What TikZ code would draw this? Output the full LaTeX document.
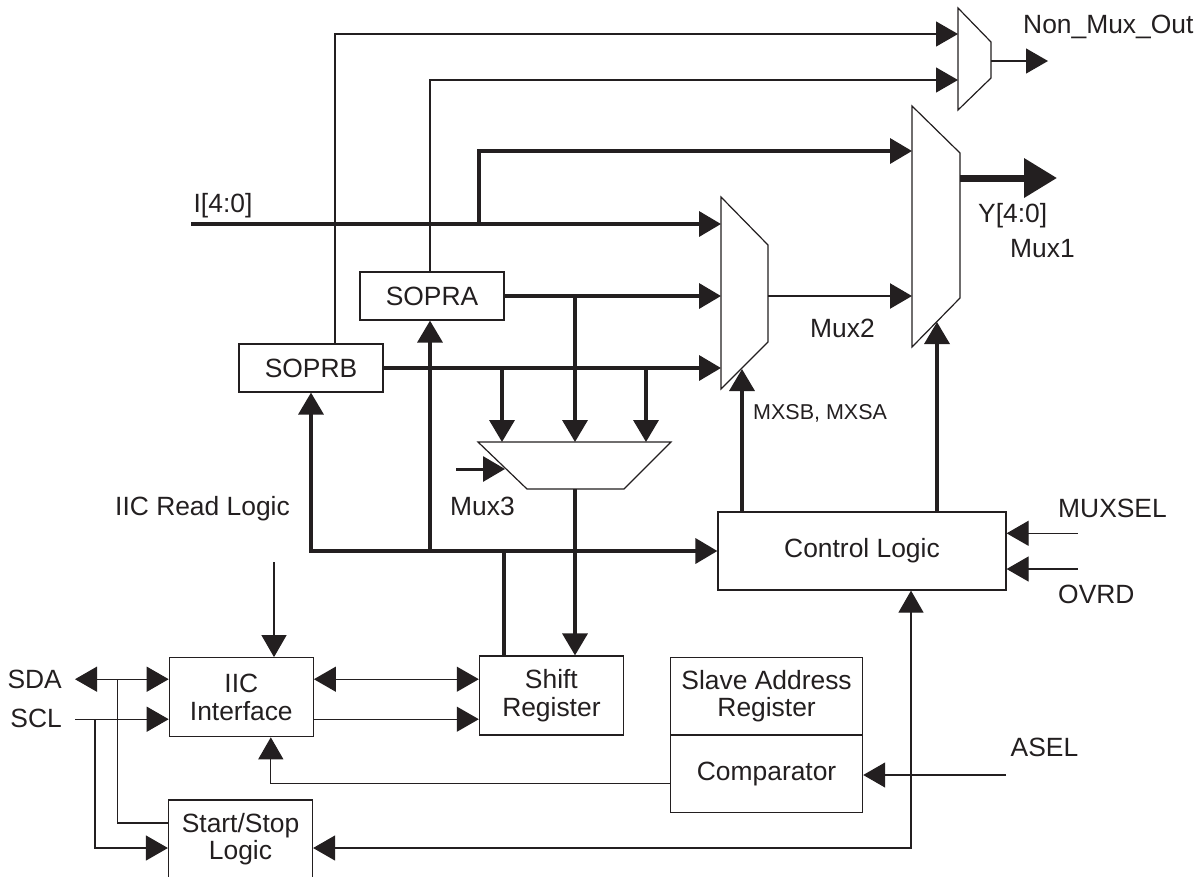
\documentclass[tikz,border=0pt]{standalone}
\usepackage{fontspec}
\setmainfont{Liberation Sans}
\usetikzlibrary{arrows.meta,calc}
\definecolor{ink}{HTML}{231F20}
\newcommand\lblfont{\fontsize{26.4}{27.6}\selectfont}
\newcommand\smallfont{\fontsize{21.5}{24}\selectfont}
\begin{document}
\begin{tikzpicture}[x=1pt,y=-1pt,
  >={Triangle[length=22pt,width=25pt]},
  bigarr/.style={-{Triangle[length=33pt,width=38pt]}},
  blk/.style={draw=ink,line width=1.2pt,fill=white,inner sep=0pt,align=center,text=ink,font=\lblfont},
  lbl/.style={inner sep=0pt,text=ink,font=\lblfont},
  muxshape/.style={draw=ink,line width=1.2pt,fill=white,line join=miter},
  thinw/.style={draw=ink,line width=1.2pt},
  thickw/.style={draw=ink,line width=3.6pt},
  midw/.style={draw=ink,line width=2.4pt},
  ythick/.style={draw=ink,line width=7pt}]
\useasboundingbox (0,0) rectangle (1201,876);

% ---- blocks ----
\node[blk,minimum width=144pt,minimum height=48pt] (sopra) at (432,296) {SOPRA};
\node[blk,minimum width=144pt,minimum height=48pt] (soprb) at (311,368) {SOPRB};
\node[blk,minimum width=144pt,minimum height=79pt] (iic) at (241.3,697.2) {IIC\\Interface};
\node[blk,minimum width=144pt,minimum height=78pt] (startstop) at (240.5,839) {Start/Stop\\Logic};
\node[blk,minimum width=144pt,minimum height=79pt] (shift) at (551.4,695.5) {Shift\\Register};
\node[blk,minimum width=192pt,minimum height=77.6pt] (slave) at (766.6,696.2) {Slave Address\\Register};
\node[blk,minimum width=192pt,minimum height=77.6pt] (comp) at (766.6,773.8) {Comparator};
\node[blk,minimum width=288pt,minimum height=78pt] (control) at (862,551) {Control Logic};

% ---- multiplexers ----
\draw[muxshape] (958,8) -- (991,42) -- (991,78) -- (958,110) -- cycle;
\draw[muxshape] (912,106) -- (960,153) -- (960,298) -- (912,347) -- cycle;
\draw[muxshape] (721,197) -- (768,245) -- (768,342) -- (721,389) -- cycle;
\draw[muxshape] (478,442) -- (671,442) -- (624,489) -- (527,489) -- cycle;

% mux ports
\coordinate (m0a) at (958,34);
\coordinate (m0b) at (958,80);
\coordinate (m0o) at (991,61);
\coordinate (m1a) at (912,151);
\coordinate (m1b) at (912,296);
\coordinate (m1o) at (960,178);
\coordinate (m1s) at (937,322);
\coordinate (m2a) at (721,224);
\coordinate (m2b) at (721,296);
\coordinate (m2c) at (721,368);
\coordinate (m2o) at (768,296);
\coordinate (m2s) at (742,369);
\coordinate (m3a) at (502,442);
\coordinate (m3b) at (575,442);
\coordinate (m3c) at (646,442);
\coordinate (m3o) at (575,489);
\coordinate (m3s) at (505,469);

% free ends / junctions
\coordinate (iin) at (191,224);
\coordinate (j1) at (479,224);
\coordinate (yout) at (1057,178);
\coordinate (nmo) at (1048,61);
\coordinate (m3sin) at (456,469);
\coordinate (irl) at (274,562);
\coordinate (sda) at (75,679.2);
\coordinate (sdab) at (117.7,679.2);
\coordinate (scl) at (75,719.2);
\coordinate (sclb) at (95,719.2);
\coordinate (asel) at (1006,775);
\coordinate (muxsel) at (1077.5,533.3);
\coordinate (ovrd) at (1077.5,569);

% ---- thick buses ----
\draw[thickw,->] (iin) -- (m2a);
\draw[thickw,->] (j1) |- (m1a);
\draw[thickw,->] (sopra.east) -- (m2b);
\draw[thickw,->] (soprb.east) -- (m2c);
\draw[thickw,->] (m3b |- sopra.east) -- (m3b);
\draw[thickw,->] (m3a |- soprb.east) -- (m3a);
\draw[thickw,->] (m3c |- soprb.east) -- (m3c);
\draw[midw,->] (m2o) -- (m1b);
\draw[ythick,bigarr] (m1o) -- (yout);
\draw[thickw,->] (control.north -| m2s) -- (m2s);
\draw[thickw,->] (control.north -| m1s) -- (m1s);
\draw[thickw,<->] (soprb.south) |- (control.west);
\draw[thickw,->] ([xshift=-2pt]sopra.south |- control.west) -- ([xshift=-2pt]sopra.south);
\draw[thickw] ([xshift=-47.5pt]shift.north |- control.west) -- ([xshift=-47.5pt]shift.north);
\draw[thickw,->] (m3o) -- (m3o |- shift.north);
\draw[line width=3pt,draw=ink,->] (m3sin) -- (m3s);

% ---- thin lines ----
\draw[thinw,->] ([xshift=24pt]soprb.north) |- (m0a);
\draw[thinw,->] ([xshift=-2pt]sopra.north) |- (m0b);
\draw[thinw,->] (m0o) -- (nmo);
\draw[thinw,->] (irl) -- (irl |- iic.north);
\draw[thinw,<->] (sda) -- (sda -| iic.west);
\draw[thinw,->] (scl) -- (scl -| iic.west);
\draw[thinw] (sdab) |- ([yshift=16pt]startstop.west);
\draw[thinw,->] (sclb) |- ([yshift=-9pt]startstop.west);
\draw[thinw,<->] ([yshift=18pt]iic.east) -- ([yshift=18pt]iic.east -| shift.west);
\draw[thinw,->] ([yshift=-22pt]iic.east) -- ([yshift=-22pt]iic.east -| shift.west);
\draw[thinw,->] ([yshift=-10pt]comp.west) -| ([xshift=29.5pt]iic.south);
\draw[thinw,->] (asel) -- (asel -| comp.east);
\draw[thinw,->] (muxsel) -- (muxsel -| control.east);
\draw[thinw,->] (ovrd) -- (ovrd -| control.east);
\draw[thinw,<->] ([yshift=-9pt]startstop.east) -| ([xshift=49pt]control.south);

% ---- labels ----
\node[lbl,anchor=base] (lI) at (223,212) {I[4:0]};
\node[lbl,anchor=base west] (lY) at (978,222) {Y[4:0]};
\node[lbl,anchor=base west] (lm1) at (1010,257) {Mux1};
\node[lbl,anchor=base west] (lm2) at (810,337) {Mux2};
\node[lbl,anchor=base west] (lm3) at (450,515) {Mux3};
\node[lbl,anchor=base west] (lnmo) at (1023,33) {Non\_Mux\_Out};
\node[lbl,anchor=base west] (lirl) at (115,515) {IIC Read Logic};
\node[lbl,anchor=base west,font=\smallfont] (lmx) at (753,419) {MXSB, MXSA};
\node[lbl,anchor=base west] (lmuxsel) at (1058,517) {MUXSEL};
\node[lbl,anchor=base west] (lovrd) at (1058,603) {OVRD};
\node[lbl,anchor=base west] (lasel) at (1010.5,756) {ASEL};
\node[lbl,anchor=base east] (lsda) at (62,688) {SDA};
\node[lbl,anchor=base east] (lscl) at (62,727) {SCL};
\end{tikzpicture}
\end{document}
